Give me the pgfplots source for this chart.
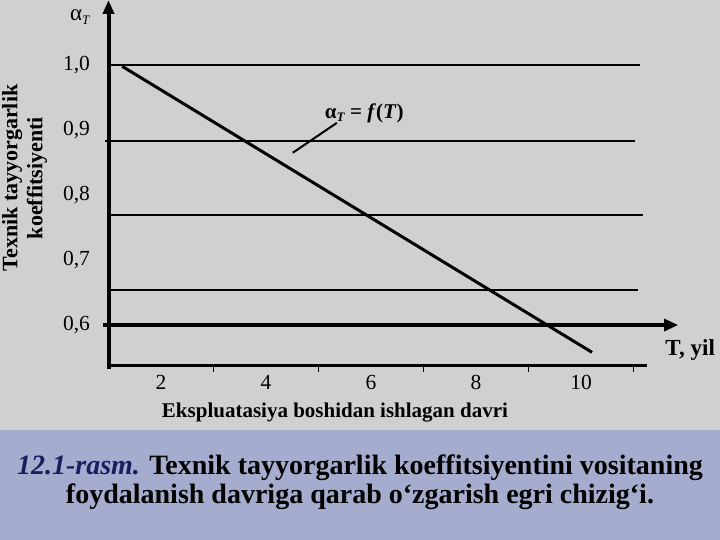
\documentclass[border=0pt]{standalone}
\usepackage{pgfplots}
\pgfplotsset{compat=1.18}
\usepackage{fontspec}
\setmainfont{Liberation Serif}
\usetikzlibrary{arrows.meta}
\definecolor{bggrey}{RGB}{208,208,208}
\definecolor{band}{RGB}{165,172,206}
\definecolor{navy}{RGB}{28,28,95}
\begin{document}
\begin{tikzpicture}[x=1pt,y=1pt]
\useasboundingbox (0,0) rectangle (720,540);
\fill[bggrey] (0,0) rectangle (720,540);
\fill[band] (0,0) rectangle (720,110);
\begin{axis}[
  at={(108.5pt,174pt)}, anchor=south west,
  scale only axis, width=567pt, height=366pt,
  xmin=1, xmax=11.8, ymin=0.537, ymax=1.1,
  clip=false,
  axis line style={draw=none},
  /pgf/number format/assume math mode=true,
  xtick={3,5,7,9,11}, xticklabels={},
  major tick length=6pt,
  xtick style={line width=1.5pt, black},
  xtick align=outside,
  xtick pos=bottom,
  extra x ticks={2,4,6,8,10},
  extra x tick labels={2,4,6,8,10},
  extra x tick style={major tick length=0pt, xticklabel style={yshift=-6pt}},
  ytick={0.6,0.7,0.8,0.9,1.0},
  yticklabels={{0,6},{0,7},{0,8},{0,9},{1,0}},
  ytick style={draw=none},
  ytick pos=left,
  yticklabel style={xshift=-15pt},
  ticklabel style={font=\fontsize{21.5}{25}\selectfont, text=black},
]
% axes drawn as lines
\addplot[black, line width=4pt, -{Triangle[length=14pt,width=11pt]}] coordinates {(1,0.532) (1,1.1)};
\addplot[black, line width=3pt] coordinates {(1,0.537) (11.26,0.537)};
\addplot[black, line width=3.2pt, -{Triangle[length=14pt,width=12pt]}] coordinates {(0.895,0.6) (11.85,0.6)};
% horizontal reference lines
\addplot[black, line width=1.6pt] coordinates {(1,1.0) (11.12,1.0)};
\addplot[black, line width=1.6pt] coordinates {(0.94,0.883) (11.03,0.883)};
\addplot[black, line width=1.6pt] coordinates {(1,0.769) (11.18,0.769)};
\addplot[black, line width=1.6pt] coordinates {(1,0.654) (11.09,0.654)};
% alpha_T = f(T)
\addplot[black, line width=3pt] coordinates {(1.26,0.998) (10.21,0.558)};
% leader line
\addplot[black, line width=2pt] coordinates {(4.51,0.865) (5.35,0.911)};
\node[font=\bfseries\fontsize{21}{24}\selectfont] at (axis cs:5.87,0.926) {α\raisebox{-0.35ex}{\fontsize{13}{15}\selectfont\textit{T}} = \textit{f}(\textit{T})};
\node[font=\fontsize{23}{26}\selectfont] at (axis cs:0.46,1.074) {α\raisebox{-0.35ex}{\fontsize{13}{15}\selectfont\textit{T}}};
\node[font=\bfseries\fontsize{23}{26}\selectfont] at (axis cs:12.08,0.562) {T, yil};
\end{axis}
\node[rotate=90, align=center, font=\bfseries\fontsize{22}{25}\selectfont] at (24.5,362) {Texnik tayyorgarlik\\koeffitsiyenti};
\node[font=\bfseries\fontsize{21}{24}\selectfont] at (335,127) {Ekspluatasiya boshidan ishlagan davri};
\node[align=center, font=\bfseries\fontsize{28}{29}\selectfont] at (360,57.5) {{\color{navy}\itshape 12.1-rasm.} Texnik tayyorgarlik koeffitsiyentini vositaning\\foydalanish davriga qarab o‘zgarish egri chizig‘i.};
\end{tikzpicture}
\end{document}
